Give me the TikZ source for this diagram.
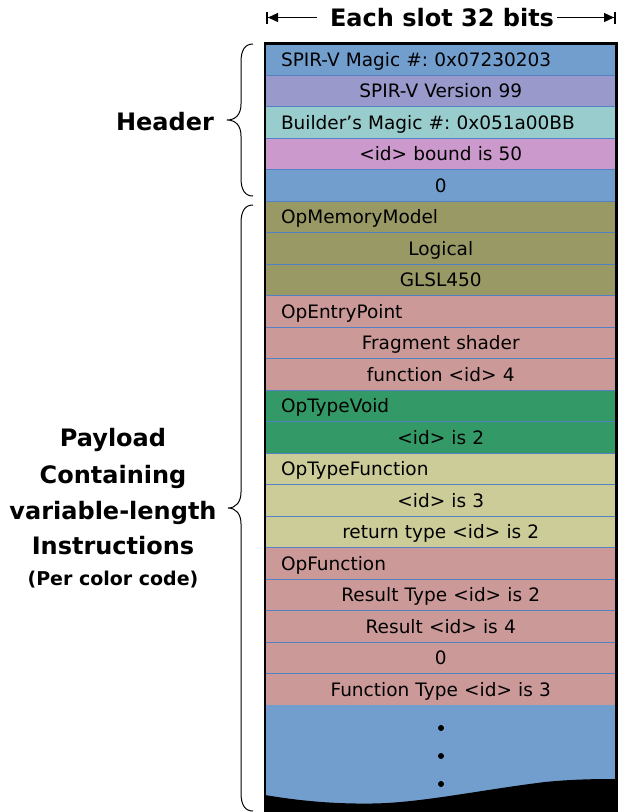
\documentclass[tikz,border=0pt]{standalone}
\usepackage{fontspec}
\setmainfont{DejaVu Sans}
\frenchspacing
\usetikzlibrary{arrows.meta}
\definecolor{blueC}{RGB}{114,158,206}
\definecolor{purpleC}{RGB}{153,153,204}
\definecolor{tealC}{RGB}{153,204,204}
\definecolor{pinkC}{RGB}{204,153,204}
\definecolor{oliveC}{RGB}{153,153,102}
\definecolor{salmonC}{RGB}{204,153,153}
\definecolor{greenC}{RGB}{51,153,102}
\definecolor{khakiC}{RGB}{204,204,153}
\definecolor{sepC}{RGB}{84,128,196}
\tikzset{
  slot/.style={rectangle, draw=sepC, line width=0.9pt, minimum width=351.5pt,
    minimum height=31.5pt, inner xsep=16pt, inner ysep=0pt, outer sep=0pt,
    text width=319.5pt, text height=13.5pt, text depth=0pt,
    font=\fontsize{18.5}{20}\selectfont, align=center},
  lslot/.style={slot, align=left},
  biglabel/.style={anchor=base, inner sep=0pt, font=\bfseries\fontsize{24}{28}\selectfont},
  brace/.style={line width=1pt, black},
  widtharrow/.style={line width=1.3pt, -{Triangle[length=10pt,width=9pt]Bar[width=12pt,line width=2pt]}}
}
\begin{document}
\begin{tikzpicture}[x=1pt,y=-1pt]
\useasboundingbox (0,0) rectangle (621,812);
% title
\node[biglabel] (title) at (442,26.5) {Each slot 32 bits};
\coordinate (als) at (317,17.5);
\coordinate (al) at (266,17.5);
\coordinate (ars) at (557,17.5);
\coordinate (ar) at (616,17.5);
\draw[widtharrow] (als) -- (al);
\draw[widtharrow] (ars) -- (ar);
% rows
\node[lslot, fill=blueC]   (r1)  at (440.75,59.25)  {SPIR-V Magic \#: 0x07230203};
\node[slot,  fill=purpleC] (r2)  at (440.75,90.75)  {SPIR-V Version 99};
\node[lslot, fill=tealC]   (r3)  at (440.75,122.25) {Builder's Magic \#: 0x051a00BB};
\node[slot,  fill=pinkC]   (r4)  at (440.75,153.75) {<id> bound is 50};
\node[slot,  fill=blueC]   (r5)  at (440.75,185.25) {0};
\node[lslot, fill=oliveC]  (r6)  at (440.75,216.75) {OpMemoryModel};
\node[slot,  fill=oliveC]  (r7)  at (440.75,248.25) {Logical};
\node[slot,  fill=oliveC]  (r8)  at (440.75,279.75) {GLSL450};
\node[lslot, fill=salmonC] (r9)  at (440.75,311.25) {OpEntryPoint};
\node[slot,  fill=salmonC] (r10) at (440.75,342.75) {Fragment shader};
\node[slot,  fill=salmonC] (r11) at (440.75,374.25) {function <id> 4};
\node[lslot, fill=greenC]  (r12) at (440.75,405.75) {OpTypeVoid};
\node[slot,  fill=greenC]  (r13) at (440.75,437.25) {<id> is 2};
\node[lslot, fill=khakiC]  (r14) at (440.75,468.75) {OpTypeFunction};
\node[slot,  fill=khakiC]  (r15) at (440.75,500.25) {<id> is 3};
\node[slot,  fill=khakiC]  (r16) at (440.75,531.75) {return type <id> is 2};
\node[lslot, fill=salmonC] (r17) at (440.75,563.25) {OpFunction};
\node[slot,  fill=salmonC] (r18) at (440.75,594.75) {Result Type <id> is 2};
\node[slot,  fill=salmonC] (r19) at (440.75,626.25) {Result <id> is 4};
\node[slot,  fill=salmonC] (r20) at (440.75,657.75) {0};
\node[slot,  fill=salmonC] (r21) at (440.75,689.25) {Function Type <id> is 3};
% continuation area
\fill[blueC] (265,705.4) rectangle (616.5,812);
\fill[black] (265,795) .. controls (300,801) and (335,804) .. (372,803.5)
  .. controls (420,803) and (480,790) .. (545,782)
  .. controls (575,779) and (600,779) .. (616.5,779) -- (616.5,812) -- (265,812) -- cycle;
\fill (441,728) circle (3pt);
\fill (441,756) circle (3pt);
\fill (441,784) circle (3pt);
% outer border
\draw[line width=2.5pt] (265,812) -- (265,43.5) -- (616.5,43.5) -- (616.5,812);
% braces
\draw[brace] (253,44) .. controls (245,44) and (241,50) .. (241,62) -- (241,104)
  .. controls (241,114) and (236,120) .. (227,120)
  .. controls (236,120) and (241,126) .. (241,136) -- (241,178)
  .. controls (241,190) and (245,196) .. (253,196);
\draw[brace] (253,205) .. controls (245,205) and (241,211) .. (241,223) -- (241,492)
  .. controls (241,502) and (236,508) .. (228,508)
  .. controls (236,508) and (241,514) .. (241,524) -- (241,793)
  .. controls (241,805) and (245,811) .. (253,811);
% labels
\node[biglabel] (hdr) at (165,130) {Header};
\node[biglabel] (pl1) at (113,446.5) {Payload};
\node[biglabel] (pl2) at (113,483) {Containing};
\node[biglabel] (pl3) at (113,519) {variable-length};
\node[biglabel] (pl4) at (113,554) {Instructions};
\node[biglabel, font=\bfseries\fontsize{19}{22}\selectfont] (pl5) at (113,585) {(Per color code)};
\end{tikzpicture}
\end{document}
